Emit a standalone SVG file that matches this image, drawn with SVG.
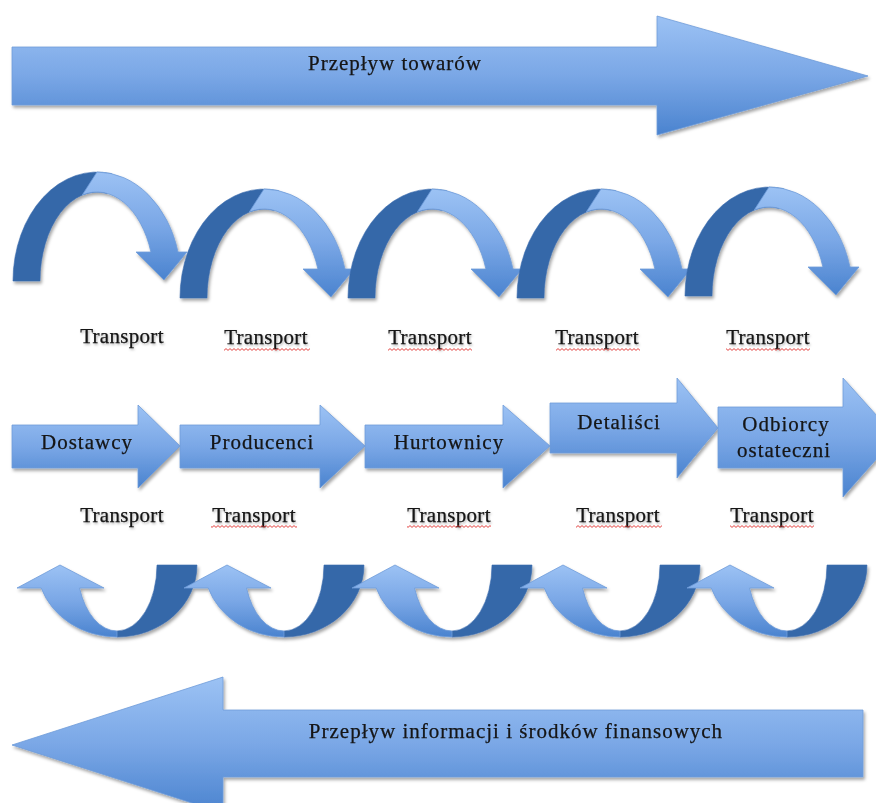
<svg xmlns="http://www.w3.org/2000/svg" xmlns:xlink="http://www.w3.org/1999/xlink" width="876" height="803" viewBox="0 0 876 803">
  <style>
    .lite { fill: url(#grad); stroke: #6f9cd9; stroke-width: 0.8; }
    .dark { fill: #3568a9; stroke: #3a6cae; stroke-width: 0.6; }
    .shape { filter: url(#sh); }
    .lbl { font-family: "Liberation Serif", "Times New Roman", serif; font-size: 21px; fill: #141414; stroke: #141414; stroke-width: 0.25; text-anchor: middle; }
    .node { letter-spacing: 1px; }
    .tr { font-size: 21px; letter-spacing: 0.3px; }
    .squig { fill: url(#sq); }
  </style>
  <defs>
    <linearGradient id="grad" x1="0" y1="0" x2="0" y2="1">
      <stop offset="0" stop-color="#9cc2f4"/>
      <stop offset="0.5" stop-color="#7aa7e6"/>
      <stop offset="1" stop-color="#4a83cf"/>
    </linearGradient>
    <filter id="sh" x="-10%" y="-10%" width="130%" height="140%">
      <feDropShadow dx="1.5" dy="2.5" stdDeviation="1.8" flood-color="#000" flood-opacity="0.35"/>
    </filter>
    <filter id="tsh" x="-5%" y="-20%" width="115%" height="150%">
      <feDropShadow dx="1" dy="1.5" stdDeviation="1" flood-color="#000" flood-opacity="0.3"/>
    </filter>
    <pattern id="sq" width="4" height="3" patternUnits="userSpaceOnUse">
      <path d="M0 2.4 L2 0.6 L4 2.4" fill="none" stroke="#e0302c" stroke-width="0.9"/>
    </pattern>
    <g id="archDn">
      <path class="dark" d="M -84 0 A 84 109 0 0 1 14.6 -107.3 L 9.9 -87.6 A 57 89 0 0 0 -57 0 Z"/>
      <path class="lite" d="M 0 -109 A 84 109 0 0 1 81 -29 L 90 -29 L 67 -1 L 39 -29 L 53.9 -29 A 57 89 0 0 0 -14.75 -86 Z"/>
    </g>
    <g id="archUp">
      <path class="dark" d="M 80 0 A 80 72 0 0 1 0 72 L 0 66 A 40 66 0 0 0 40 0 Z"/>
      <path class="lite" d="M 0 72 A 80 72 0 0 1 -75.8 23 L -100 23 L -57 0 L -13 23 L -37.5 23 A 40 66 0 0 0 0 66 Z"/>
    </g>
  </defs>

  <!-- Top flow arrow -->
  <g id="flow-goods" class="shape">
    <path class="lite" d="M 12 47 H 657 V 16 L 868 76 L 657 135 V 105 H 12 Z"/>
    <text class="lbl node" x="395" y="70">Przepływ towarów</text>
  </g>

  <!-- Transport arches (connectors) -->
  <g id="connectors">
    <g id="arch-top" class="shape">
      <use xlink:href="#archDn" href="#archDn" transform="translate(97,281)"/>
      <use xlink:href="#archDn" href="#archDn" transform="translate(264,298)"/>
      <use xlink:href="#archDn" href="#archDn" transform="translate(432,298)"/>
      <use xlink:href="#archDn" href="#archDn" transform="translate(601,298)"/>
      <use xlink:href="#archDn" href="#archDn" transform="translate(769,296)"/>
    </g>
    <g id="arch-bottom" class="shape">
      <use xlink:href="#archUp" href="#archUp" transform="translate(117,565)"/>
      <use xlink:href="#archUp" href="#archUp" transform="translate(284,565)"/>
      <use xlink:href="#archUp" href="#archUp" transform="translate(452,565)"/>
      <use xlink:href="#archUp" href="#archUp" transform="translate(620,565)"/>
      <use xlink:href="#archUp" href="#archUp" transform="translate(787,565)"/>
    </g>
  </g>

  <!-- Transport labels row 1 -->
  <g id="transport-top">
    <g filter="url(#tsh)">
      <text class="lbl tr" x="122" y="343">Transport</text>
      <text class="lbl tr" x="266" y="344">Transport</text>
      <text class="lbl tr" x="430" y="344">Transport</text>
      <text class="lbl tr" x="597" y="344">Transport</text>
      <text class="lbl tr" x="768" y="344">Transport</text>
    </g>
    <rect class="squig" x="224" y="348" width="86" height="3"/>
    <rect class="squig" x="388" y="348" width="84" height="3"/>
    <rect class="squig" x="556" y="348" width="84" height="3"/>
    <rect class="squig" x="726" y="348" width="84" height="3"/>
  </g>

  <!-- Chain nodes -->
  <g id="node-dostawcy" class="shape">
    <path class="lite" d="M 12 425 H 138 V 405 L 180 446 L 138 488 V 468 H 12 Z"/>
    <text class="lbl node" x="87" y="449">Dostawcy</text>
  </g>
  <g id="node-producenci" class="shape">
    <path class="lite" d="M 180 425 H 320 V 405 L 365 446 L 320 488 V 468 H 180 Z"/>
    <text class="lbl node" x="262" y="449">Producenci</text>
  </g>
  <g id="node-hurtownicy" class="shape">
    <path class="lite" d="M 365 425 H 503 V 405 L 550 446 L 503 488 V 468 H 365 Z"/>
    <text class="lbl node" x="449" y="449">Hurtownicy</text>
  </g>
  <g id="node-detalisci" class="shape">
    <path class="lite" d="M 550 403 H 677 V 378 L 718 428 L 677 478 V 453 H 550 Z"/>
    <text class="lbl node" x="619" y="429">Detaliści</text>
  </g>
  <g id="node-odbiorcy" class="shape">
    <path class="lite" d="M 718 407 H 843 V 378 L 896 437 L 843 497 V 468 H 718 Z"/>
    <text class="lbl node" x="786" y="431">Odbiorcy</text>
    <text class="lbl node" x="784" y="457">ostateczni</text>
  </g>

  <!-- Transport labels row 2 -->
  <g id="transport-bottom">
    <g filter="url(#tsh)">
      <text class="lbl tr" x="122" y="522">Transport</text>
      <text class="lbl tr" x="254" y="522">Transport</text>
      <text class="lbl tr" x="449" y="522">Transport</text>
      <text class="lbl tr" x="618" y="522">Transport</text>
      <text class="lbl tr" x="772" y="522">Transport</text>
    </g>
    <rect class="squig" x="211" y="525" width="86" height="3"/>
    <rect class="squig" x="407" y="525" width="84" height="3"/>
    <rect class="squig" x="576" y="525" width="86" height="3"/>
    <rect class="squig" x="730" y="525" width="84" height="3"/>
  </g>

  <!-- Bottom flow arrow -->
  <g id="flow-info" class="shape">
    <path class="lite" d="M 863 710 H 223 V 677 L 12 745 L 223 813 V 777 H 863 Z"/>
    <text class="lbl node" x="516" y="738">Przepływ informacji i środków finansowych</text>
  </g>
</svg>
